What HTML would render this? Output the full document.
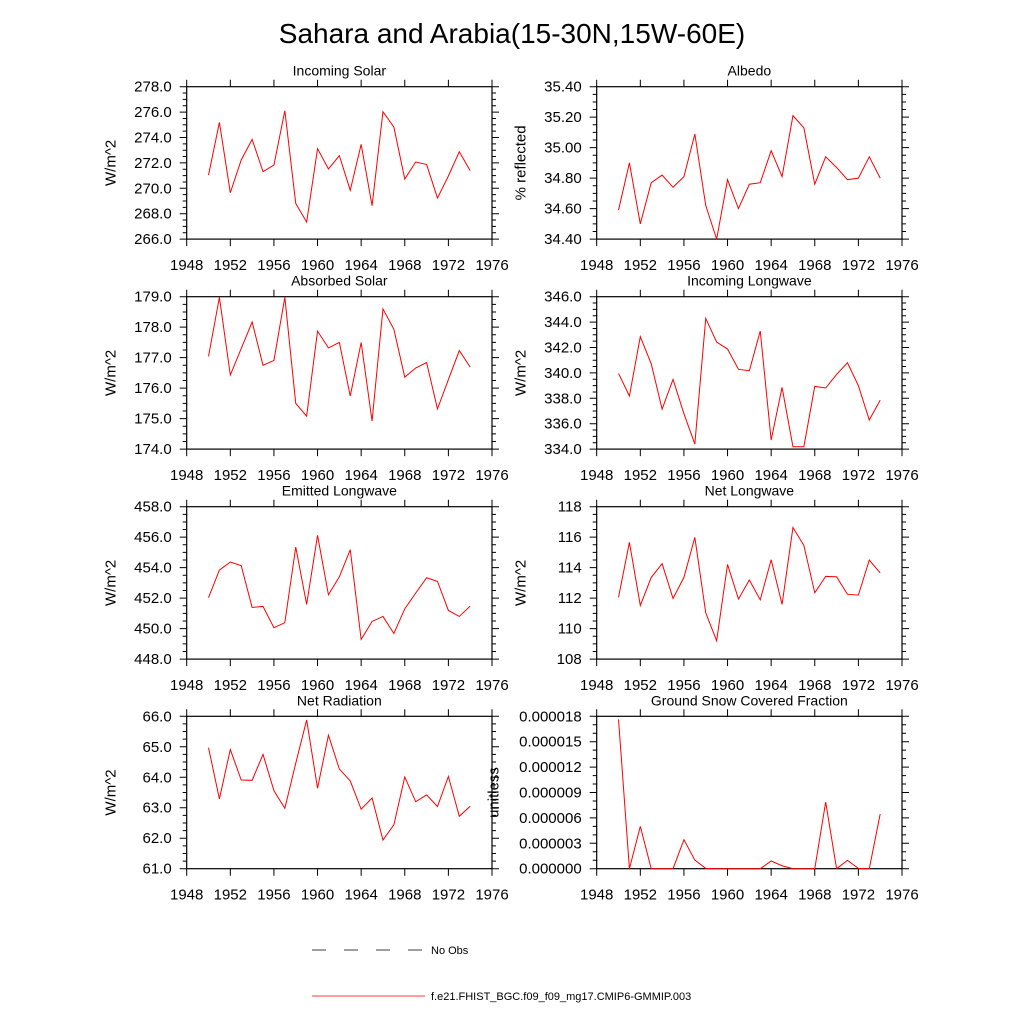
<!DOCTYPE html>
<html><head><meta charset="utf-8"><style>
html,body{margin:0;padding:0;background:#fff;}
svg{display:block;font-family:"Liberation Sans",sans-serif;}
</style></head><body>
<svg id="chart" width="1024" height="1024" viewBox="0 0 1024 1024">
<text x="512" y="43" font-size="28" text-anchor="middle">Sahara and Arabia(15-30N,15W-60E)</text>
<g>
<line x1="312" y1="950" x2="425" y2="950" stroke="#000" stroke-width="0.8" stroke-dasharray="14,18"/>
<text x="431" y="954" font-size="11">No Obs</text>
<line x1="312" y1="996" x2="425" y2="996" stroke="#f00" stroke-width="0.8"/>
<text x="431" y="1000" font-size="11">f.e21.FHIST_BGC.f09_f09_mg17.CMIP6-GMMIP.003</text>
</g>
</svg>
<script>
const years = [1950,1951,1952,1953,1954,1955,1956,1957,1958,1959,1960,1961,1962,1963,1964,1965,1966,1967,1968,1969,1970,1971,1972,1973,1974];
const xTicks = [1948,1952,1956,1960,1964,1968,1972,1976];
const incomingSolar = [271.04,275.19,269.65,272.23,273.85,271.31,271.83,276.11,268.81,267.34,273.12,271.52,272.57,269.84,273.46,268.63,276.03,274.82,270.73,272.07,271.88,269.23,270.97,272.88,271.39];
const albedo = [34.59,34.90,34.50,34.77,34.82,34.74,34.81,35.09,34.62,34.40,34.79,34.60,34.76,34.77,34.98,34.81,35.21,35.13,34.76,34.94,34.87,34.79,34.80,34.94,34.80];
const absorbedSolar = [177.04,178.98,176.43,177.30,178.17,176.75,176.91,178.98,175.50,175.08,177.87,177.32,177.50,175.74,177.50,174.92,178.60,177.93,176.36,176.66,176.84,175.32,176.28,177.23,176.69];
const incomingLW = [339.96,338.18,342.85,340.72,337.15,339.49,336.79,334.40,344.29,342.43,341.88,340.28,340.17,343.30,334.71,338.86,334.19,334.19,338.94,338.81,339.88,340.80,338.99,336.29,337.86];
const emittedLW = [452.03,453.84,454.37,454.13,451.39,451.46,450.06,450.39,455.35,451.59,456.12,452.22,453.40,455.18,449.29,450.47,450.80,449.68,451.30,452.33,453.34,453.10,451.19,450.80,451.48];
const netLW = [112.05,115.66,111.52,113.36,114.26,111.98,113.36,115.99,111.04,109.20,114.21,111.94,113.19,111.89,114.52,111.59,116.64,115.46,112.35,113.43,113.40,112.25,112.20,114.50,113.65];
const netRad = [64.97,63.29,64.91,63.91,63.90,64.75,63.56,62.98,64.46,65.88,63.64,65.38,64.27,63.88,62.95,63.32,61.94,62.44,64.01,63.20,63.42,63.04,64.03,62.72,63.05];
const snowFrac = [17.64e-6,0,5.0e-6,0,0,0,3.43e-6,1.02e-6,0.04e-6,0,0,0,0,0,0.91e-6,0.35e-6,0,0,0,7.87e-6,0,0.98e-6,0.04e-6,0,6.46e-6];
const titles = ["Incoming Solar","Albedo","Absorbed Solar","Incoming Longwave","Emitted Longwave","Net Longwave","Net Radiation","Ground Snow Covered Fraction"];
const yTitles = ["W/m^2","% reflected","W/m^2","W/m^2","W/m^2","W/m^2","W/m^2","unitless"];
const yMins = [266,34.4,174,334,448,108,61,0];
const yMaxs = [278,35.4,179,346,458,118,66,0.000018];
const yMajorSteps = [2,0.2,1,2,2,2,1,0.000003];
const yMinorSteps = [0.5,0.05,0.25,0.5,0.5,0.5,0.25,0.000001];
const yDecimals = [1,2,1,1,1,0,1,6];
const seriesList = [incomingSolar,albedo,absorbedSolar,incomingLW,emittedLW,netLW,netRad,snowFrac];

const NS='http://www.w3.org/2000/svg';
const svg=document.getElementById('chart');
function mk(tag,attrs,parent){const e=document.createElementNS(NS,tag);for(const k in attrs)e.setAttribute(k,attrs[k]);parent.appendChild(e);return e;}
const colX=[186.7,596.7], rowY=[86.7,296.7,506.7,716.3], W=305.3, H=152.4;

for(let p=0;p<8;p++){
  const x0=colX[p%2], y0=rowY[Math.floor(p/2)];
  const ymin=yMins[p], ymax=yMaxs[p];
  const sx=v=>x0+(v-1948)/(1976-1948)*W;
  const sy=v=>y0+H-(v-ymin)/(ymax-ymin)*H;
  const g=mk('g',{},svg);
  
  
  const t=mk('text',{x:x0+W/2,y:y0-11,'font-size':14,'text-anchor':'middle'},g);
  t.textContent=titles[p];
  
  
  const yt=mk('text',{x:0,y:0,'font-size':15,'text-anchor':'middle',transform:`translate(${x0-(p===7?98:71)},${y0+H/2}) rotate(-90)`},g);
  yt.textContent=yTitles[p];
  
  
  let d='';
  const nMin=Math.round((ymax-ymin)/yMinorSteps[p]);
  for(let i=0;i<=nMin;i++){const yy=sy(ymin+i*yMinorSteps[p]);d+=`M${x0} ${yy}h-4M${x0+W} ${yy}h4`;}
  const nMaj=Math.round((ymax-ymin)/yMajorSteps[p]);
  for(let i=0;i<=nMaj;i++){
    const v=ymin+i*yMajorSteps[p];const yy=sy(v);
    d+=`M${x0} ${yy}h-7M${x0+W} ${yy}h7`;
    const lb=mk('text',{x:x0-15,y:yy+5,'font-size':15,'text-anchor':'end'},g);
    lb.textContent=v.toFixed(yDecimals[p]);
    
    
  }
  xTicks.forEach(v=>{
    const xx=sx(v);d+=`M${xx} ${y0+H}v7M${xx} ${y0}v-7`;
    const lb=mk('text',{x:xx,y:y0+H+31,'font-size':15,'text-anchor':'middle'},g);
    lb.textContent=v;
    
    
  });
  const tk=mk('path',{d:d,stroke:'#000','stroke-width':1,fill:'none'},g);
  
  
  const fr=mk('rect',{x:x0,y:y0,width:W,height:H,fill:'none',stroke:'#000','stroke-width':1.2},g);
  
  
  const pts=seriesList[p].map((v,i)=>sx(years[i]).toFixed(2)+','+sy(v).toFixed(2)).join(' ');
  const ln=mk('polyline',{points:pts,fill:'none',stroke:'#f00','stroke-width':1},g);
  
  
}
</script>
</body></html>
